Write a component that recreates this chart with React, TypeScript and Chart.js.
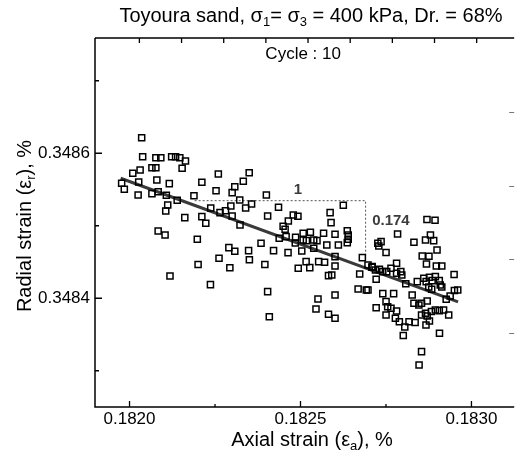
import React, { useEffect, useRef } from 'react';
import { Chart, registerables } from 'chart.js';

Chart.register(...registerables);

// Measured data (axial strain %, radial strain %), cycle 10
const axialStrain = [
  0.1820355, 0.1820384, 0.1820770, 0.1820915, 0.1821232, 0.1821347, 0.1821471, 0.1821636, 0.1821538, 0.1820655,
  0.1820770, 0.1820309, 0.1820095, 0.1822597, 0.1823500, 0.1819769, 0.1819847, 0.1820268, 0.1820799, 0.1821163,
  0.1822115, 0.1823327, 0.1823078, 0.1823001, 0.1822530, 0.1820251, 0.1820655, 0.1820837, 0.1821076, 0.1821884,
  0.1821394, 0.1824002, 0.1823223, 0.1823569, 0.1823396, 0.1822963, 0.1822807, 0.1822646, 0.1823001, 0.1822375,
  0.1821117, 0.1821059, 0.1821616, 0.1822115, 0.1822230, 0.1823231, 0.1824039, 0.1824357, 0.1820837, 0.1821039,
  0.1821982, 0.1824492, 0.1824550, 0.1824645, 0.1824789, 0.1824925, 0.1824377, 0.1824579, 0.1824856, 0.1825078,
  0.1823846, 0.1824847, 0.1822905, 0.1823078, 0.1823482, 0.1824212, 0.1824636, 0.1825037, 0.1822617, 0.1823505,
  0.1823958, 0.1822005, 0.1822934, 0.1824934, 0.1825164, 0.1821183, 0.1822366, 0.1824039, 0.1824088, 0.1826252,
  0.1825866, 0.1825894, 0.1825289, 0.1825675, 0.1826010, 0.1826368, 0.1826396, 0.1826396, 0.1826368, 0.1825078,
  0.1825173, 0.1825387, 0.1825482, 0.1825770, 0.1826108, 0.1825387, 0.1825271, 0.1825531, 0.1825704, 0.1826010,
  0.1826010, 0.1825819, 0.1825915, 0.1826809, 0.1826731, 0.1827089, 0.1827213, 0.1826685, 0.1826924, 0.1826010,
  0.1825511, 0.1825453, 0.1825819, 0.1826010, 0.1827262, 0.1827357, 0.1827291, 0.1827502, 0.1827839, 0.1828318,
  0.1828699, 0.1828935, 0.1828656, 0.1828800, 0.1828895, 0.1828993, 0.1828560, 0.1828757, 0.1828684, 0.1828973,
  0.1829132, 0.1829492, 0.1826974, 0.1827098, 0.1827193, 0.1827308, 0.1827406, 0.1827522, 0.1827646, 0.1827810,
  0.1827810, 0.1827934, 0.1827963, 0.1828079, 0.1828416, 0.1828607, 0.1828676, 0.1828771, 0.1828849, 0.1828944,
  0.1829059, 0.1829088, 0.1828751, 0.1828837, 0.1829132, 0.1829261, 0.1829377, 0.1829501, 0.1829599, 0.1826974,
  0.1827406, 0.1827724, 0.1828266, 0.1827213, 0.1827502, 0.1827550, 0.1827646, 0.1827810, 0.1827502, 0.1827775,
  0.1827891, 0.1828050, 0.1828006, 0.1828174, 0.1828353, 0.1828318, 0.1828462, 0.1828540, 0.1828705, 0.1828540,
  0.1828656, 0.1828705, 0.1828829, 0.1828944, 0.1829059, 0.1829184, 0.1829334, 0.1828771, 0.1828670, 0.1829065,
  0.1828540, 0.1828468,
];

const radialStrain = [
  0.3486215, 0.3485953, 0.3485939, 0.3485939, 0.3485953, 0.3485953, 0.3485939, 0.3485894, 0.3485793, 0.3485801,
  0.3485801, 0.3485770, 0.3485724, 0.3485714, 0.3485732, 0.3485586, 0.3485503, 0.3485604, 0.3485632, 0.3485581,
  0.3485600, 0.3485614, 0.3485539, 0.3485457, 0.3485484, 0.3485425, 0.3485443, 0.3485470, 0.3485421, 0.3485415,
  0.3485352, 0.3485425, 0.3485356, 0.3485301, 0.3485246, 0.3485273, 0.3485208, 0.3485181, 0.3485135, 0.3485246,
  0.3485287, 0.3485204, 0.3485112, 0.3485126, 0.3485034, 0.3485011, 0.3485135, 0.3485255, 0.3484928, 0.3484873,
  0.3484814, 0.3484993, 0.3484952, 0.3485066, 0.3485149, 0.3485131, 0.3484828, 0.3484850, 0.3484841, 0.3484897,
  0.3484759, 0.3484763, 0.3484698, 0.3484648, 0.3484657, 0.3484657, 0.3484629, 0.3484652, 0.3484552, 0.3484531,
  0.3484466, 0.3484466, 0.3484421, 0.3484414, 0.3484505, 0.3484308, 0.3484188, 0.3484091, 0.3483746, 0.3485283,
  0.3485181, 0.3485043, 0.3484910, 0.3484897, 0.3484883, 0.3484932, 0.3484873, 0.3484814, 0.3484767, 0.3484804,
  0.3484795, 0.3484804, 0.3484795, 0.3484735, 0.3484735, 0.3484690, 0.3484422, 0.3484505, 0.3484497, 0.3484574,
  0.3484446, 0.3484312, 0.3484321, 0.3484560, 0.3484335, 0.3484428, 0.3484262, 0.3484128, 0.3484114, 0.3484046,
  0.3483990, 0.3483852, 0.3483779, 0.3483724, 0.3484759, 0.3484781, 0.3484721, 0.3484632, 0.3484887, 0.3484772,
  0.3485087, 0.3485076, 0.3484804, 0.3484873, 0.3484795, 0.3484666, 0.3484583, 0.3484579, 0.3484473, 0.3484446,
  0.3484446, 0.3484328, 0.3484459, 0.3484436, 0.3484390, 0.3484400, 0.3484367, 0.3484367, 0.3484414, 0.3484483,
  0.3484345, 0.3484367, 0.3484321, 0.3484200, 0.3484229, 0.3484276, 0.3484229, 0.3484290, 0.3484243, 0.3484298,
  0.3484243, 0.3484183, 0.3484156, 0.3484124, 0.3484156, 0.3483986, 0.3484032, 0.3484108, 0.3484114, 0.3484114,
  0.3484064, 0.3484064, 0.3484046, 0.3483870, 0.3483953, 0.3483884, 0.3483862, 0.3483825, 0.3483770, 0.3483724,
  0.3483677, 0.3483604, 0.3483487, 0.3483677, 0.3483666, 0.3483931, 0.3483908, 0.3483931, 0.3483963, 0.3483770,
  0.3483793, 0.3483756, 0.3483818, 0.3483839, 0.3483829, 0.3483839, 0.3483770, 0.3483687, 0.3483632, 0.3483517,
  0.3483264, 0.3483080,
];

// Linear fit line end points
const fitAxial = [0.181974, 0.1829608];
const fitRadial = [0.3485655, 0.3483949];

// Slope triangle (dotted)
const slopeAxial = [0.1821904, 0.1826904, 0.1826904];
const slopeRadial = [0.3485346, 0.3485346, 0.3484556];

// Axes
const xMin = 0.181899;
const xMax = 0.183125;
const yMin = 0.34825;
const yMax = 0.348759;
const xMajorTicks = [0.182, 0.1825, 0.183];
const xMinorTicks = [0.18225, 0.18275];
const yMajorTicks = [0.3484, 0.3486];
const yMinorTicks = [0.3483, 0.3485, 0.3487];
const topTicks = [0, 1, 2, 3, 4, 5, 6, 7, 8];
const topMin = -1.053;
const topMax = 8.89;
const rightTicks = [1, 2, 3, 4];
const rightMin = 0;
const rightMax = 5;

// Annotations
const slopeRunLabel = { text: '1', x: 0.1824925, y: 0.3485494 };
const slopeRiseLabel = { text: '0.174', x: 0.1827645, y: 0.348507 };
const cycleLabel = { text: 'Cycle : 10', x: 0.1825078, y: 0.3487369 };

const FONT = '"Liberation Sans", Arial, Helvetica, sans-serif';

type Seg = { t: string; sub?: boolean };

function drawRich(ctx: CanvasRenderingContext2D, segs: Seg[], x: number, y: number, size: number) {
  const subSize = size * 0.65;
  const widths = segs.map((s) => {
    ctx.font = `${s.sub ? subSize : size}px ${FONT}`;
    return ctx.measureText(s.t).width;
  });
  const total = widths.reduce((a, b) => a + b, 0);
  let cx = x - total / 2;
  ctx.textAlign = 'left';
  ctx.textBaseline = 'alphabetic';
  segs.forEach((s, i) => {
    ctx.font = `${s.sub ? subSize : size}px ${FONT}`;
    ctx.fillText(s.t, cx, s.sub ? y + size * 0.22 : y);
    cx += widths[i];
  });
}

const framePlugin = {
  id: 'frame',
  afterDraw(chart: any) {
    const ctx: CanvasRenderingContext2D = chart.ctx;
    const { left, right, top, bottom } = chart.chartArea;
    const sx = chart.scales.x;
    const sy = chart.scales.y;
    const sx2 = chart.scales.x2;
    const sy2 = chart.scales.y2;
    ctx.save();
    ctx.strokeStyle = '#000';
    ctx.lineWidth = 1.5;
    ctx.beginPath();
    ctx.moveTo(left, top);
    ctx.lineTo(left, bottom);
    ctx.lineTo(right, bottom);
    ctx.moveTo(left, top);
    ctx.lineTo(right, top);
    ctx.stroke();

    ctx.lineWidth = 1.3;
    ctx.beginPath();
    xMajorTicks.forEach((v) => {
      const p = sx.getPixelForValue(v);
      ctx.moveTo(p, bottom);
      ctx.lineTo(p, bottom - 6);
    });
    xMinorTicks.forEach((v) => {
      const p = sx.getPixelForValue(v);
      ctx.moveTo(p, bottom);
      ctx.lineTo(p, bottom - 3);
    });
    yMajorTicks.forEach((v) => {
      const p = sy.getPixelForValue(v);
      ctx.moveTo(left, p);
      ctx.lineTo(left + 7, p);
    });
    yMinorTicks.forEach((v) => {
      const p = sy.getPixelForValue(v);
      ctx.moveTo(left, p);
      ctx.lineTo(left + 4, p);
    });
    topTicks.forEach((v) => {
      const p = sx2.getPixelForValue(v);
      ctx.moveTo(p, top);
      ctx.lineTo(p, top + 5);
    });
    ctx.stroke();

    ctx.strokeStyle = '#777';
    ctx.lineWidth = 1;
    ctx.beginPath();
    rightTicks.forEach((v) => {
      const p = Math.round(sy2.getPixelForValue(v)) + 0.5;
      ctx.moveTo(right, p);
      ctx.lineTo(right - 5, p);
    });
    ctx.stroke();

    // Titles
    ctx.fillStyle = '#000';
    drawRich(
      ctx,
      [
        { t: 'Toyoura sand, \u03c3' },
        { t: '1', sub: true },
        { t: '= \u03c3' },
        { t: '3', sub: true },
        { t: ' = 400 kPa, Dr. = 68%' },
      ],
      311,
      22,
      20
    );
    drawRich(ctx, [{ t: 'Axial strain (\u03b5' }, { t: 'a', sub: true }, { t: '), %' }], 312, 446, 20);
    ctx.save();
    ctx.translate(31, 226);
    ctx.rotate(-Math.PI / 2);
    drawRich(ctx, [{ t: 'Radial strain (\u03b5' }, { t: 'r', sub: true }, { t: '), %' }], 0, 0, 20);
    ctx.restore();

    // Annotations
    ctx.textAlign = 'center';
    ctx.textBaseline = 'middle';
    ctx.font = `17px ${FONT}`;
    ctx.fillStyle = '#000';
    ctx.fillText(cycleLabel.text, sx.getPixelForValue(cycleLabel.x), sy.getPixelForValue(cycleLabel.y));
    ctx.font = `bold 15px ${FONT}`;
    ctx.fillStyle = '#3c3c3c';
    ctx.fillText(slopeRunLabel.text, sx.getPixelForValue(slopeRunLabel.x), sy.getPixelForValue(slopeRunLabel.y));
    ctx.fillText(slopeRiseLabel.text, sx.getPixelForValue(slopeRiseLabel.x), sy.getPixelForValue(slopeRiseLabel.y));
    ctx.restore();
  },
};

export default function App() {
  const canvasRef = useRef<HTMLCanvasElement | null>(null);

  useEffect(() => {
    if (!canvasRef.current) return;
    const points = axialStrain.map((x, i) => ({ x, y: radialStrain[i] }));
    const fit = fitAxial.map((x, i) => ({ x, y: fitRadial[i] }));
    const slope = slopeAxial.map((x, i) => ({ x, y: slopeRadial[i] }));

    const chart = new Chart(canvasRef.current, {
      type: 'scatter',
      data: {
        datasets: [
          {
            label: 'Cycle 10',
            data: points,
            pointStyle: 'rect',
            pointRadius: 4.3,
            pointBorderWidth: 1.5,
            pointBorderColor: '#000',
            pointBackgroundColor: 'rgba(255,255,255,0)',
            showLine: false,
          },
          {
            label: 'Fit',
            type: 'line',
            data: fit,
            borderColor: '#3a3a3a',
            borderWidth: 3,
            pointRadius: 0,
            fill: false,
          },
          {
            label: 'Slope',
            type: 'line',
            data: slope,
            borderColor: '#555',
            borderWidth: 1,
            borderDash: [2, 2],
            pointRadius: 0,
            fill: false,
          },
        ],
      },
      options: {
        animation: false,
        responsive: false,
        layout: { padding: { top: 38, left: 0, right: 0, bottom: 0 } },
        plugins: {
          legend: { display: false },
          tooltip: { enabled: false },
          title: { display: false },
        },
        scales: {
          x: {
            type: 'linear',
            min: xMin,
            max: xMax,
            grid: { display: false, drawTicks: false },
            border: { display: false },
            afterFit: (s: any) => {
              s.height = 50;
            },
            afterBuildTicks: (s: any) => {
              s.ticks = xMajorTicks.map((v) => ({ value: v }));
            },
            ticks: {
              padding: 2,
              color: '#000',
              font: { family: FONT, size: 17 },
              maxRotation: 0,
              autoSkip: false,
              callback: (v: any) => Number(v).toFixed(4),
            },
          },
          y: {
            type: 'linear',
            min: yMin,
            max: yMax,
            grid: { display: false, drawTicks: false },
            border: { display: false },
            afterFit: (s: any) => {
              s.width = 95;
            },
            afterBuildTicks: (s: any) => {
              s.ticks = yMajorTicks.map((v) => ({ value: v }));
            },
            ticks: {
              padding: 5,
              color: '#000',
              font: { family: FONT, size: 17 },
              autoSkip: false,
              callback: (v: any) => Number(v).toFixed(4),
            },
          },
          x2: {
            type: 'linear',
            position: 'top',
            display: false,
            min: topMin,
            max: topMax,
          },
          y2: {
            type: 'linear',
            position: 'right',
            display: false,
            min: rightMin,
            max: rightMax,
          },
        },
      },
      plugins: [framePlugin],
    });
    return () => chart.destroy();
  }, []);

  return (
    <div style={{ position: 'fixed', left: 0, top: 0, width: 518, height: 457, overflow: 'hidden', background: '#fff' }}>
      <canvas ref={canvasRef} width={520} height={457} style={{ display: 'block' }} />
    </div>
  );
}
